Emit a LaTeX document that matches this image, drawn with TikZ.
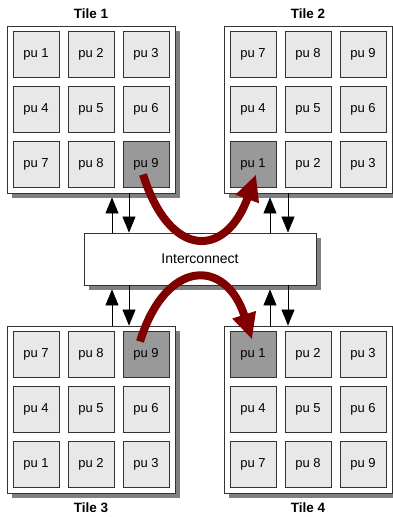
\documentclass[tikz,border=0pt]{standalone}
\usepackage{fontspec}
\setmainfont{Liberation Sans}
\usetikzlibrary{arrows.meta}
\usetikzlibrary{shadows}
\usetikzlibrary{positioning}
\definecolor{darkred}{rgb}{0.5,0,0}
\definecolor{pulight}{gray}{0.91}
\definecolor{pudark}{gray}{0.6}
\definecolor{edge}{gray}{0.2}

\begin{document}
\begin{tikzpicture}[x=1pt,y=-1pt,
    tile/.style={draw=edge, line width=0.8pt, fill=white, minimum width=168pt, minimum height=167pt,
      drop shadow={shadow xshift=5pt, shadow yshift=-5pt, fill=black!50, opacity=1}},
    pu/.style={draw=edge, line width=0.8pt, minimum size=46pt, inner sep=0pt, font=\fontsize{13}{15}\selectfont},
    title/.style={font=\fontsize{13.5}{16}\selectfont\bfseries},
    bus/.style={draw=edge, line width=0.8pt, fill=white, minimum width=232pt, minimum height=52pt,
      font=\fontsize{14}{17}\selectfont,
      drop shadow={shadow xshift=5pt, shadow yshift=-5pt, fill=black!50, opacity=1}},
    link/.style={line width=0.7pt, -{Triangle[length=16pt, width=13pt]}},
    move/.style={darkred, line width=8pt, -{Triangle[length=26pt, width=23pt]}}]
  \useasboundingbox (0,0) rectangle (393,517);

  % the four tiles
  \node[tile] (tile1) at (91,109.5) {};
  \node[tile] (tile2) at (308,109.5) {};
  \node[tile] (tile3) at (91,409.5) {};
  \node[tile] (tile4) at (308,409.5) {};
  \node[title] (title1) at (91,14) {Tile 1};
  \node[title] (title2) at (308,14) {Tile 2};
  \node[title] (title3) at (91,508) {Tile 3};
  \node[title] (title4) at (308,508) {Tile 4};

  % processing units, row by row
  \foreach \t/\order/\hot in {1/{1,2,3,4,5,6,7,8,9}/9, 2/{7,8,9,4,5,6,1,2,3}/1,
                              3/{7,8,9,4,5,6,1,2,3}/9, 4/{1,2,3,4,5,6,7,8,9}/1}
    \foreach \n [count=\i from 0] in \order {
      \pgfmathtruncatemacro\c{mod(\i,3)-1}
      \pgfmathtruncatemacro\r{div(\i,3)-1}
      \ifnum\n=\hot \def\pufill{pudark}\else\def\pufill{pulight}\fi
      \node[pu, fill=\pufill] (t\t-pu\n) at ([xshift=\c*55pt, yshift=-\r*55pt]tile\t.center) {pu \n};
    }

  \node[bus] (net) at (200,259) {Interconnect};

  % links between the tiles and the interconnect
  \draw[link] ([xshift=-88pt]net.north) -- ([xshift=-88pt, yshift=-4pt]net.north |- tile1.south);
  \draw[link] ([xshift=-71pt]net.north |- tile1.south) -- ([xshift=-71pt]net.north);
  \draw[link] ([xshift=70pt]net.north) -- ([xshift=70pt, yshift=-4pt]net.north |- tile2.south);
  \draw[link] ([xshift=88pt]net.north |- tile2.south) -- ([xshift=88pt]net.north);
  \draw[link] ([xshift=-88pt]net.south |- tile3.north) -- ([xshift=-88pt, yshift=-4pt]net.south);
  \draw[link] ([xshift=-71pt]net.south) -- ([xshift=-71pt]net.south |- tile3.north);
  \draw[link] ([xshift=70pt]net.south |- tile4.north) -- ([xshift=70pt, yshift=-4pt]net.south);
  \draw[link] ([xshift=88pt]net.south) -- ([xshift=88pt]net.south |- tile4.north);

  % migration of a task
  \draw[move] ([shift={(-3,10)}]t1-pu9.center) .. controls (170,260) and (226,258) .. ([shift={(3,10)}]t2-pu1.center);
  \draw[move] ([shift={(-6,-13)}]t3-pu9.center) .. controls (166,258) and (226,258) .. ([shift={(-1,-15)}]t4-pu1.center);
\end{tikzpicture}
\end{document}
